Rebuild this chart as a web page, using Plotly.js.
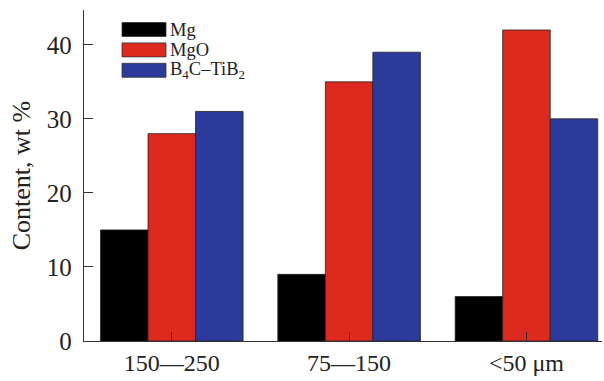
<!DOCTYPE html>
<html>
<head>
<meta charset="utf-8">
<script src="https://cdn.plot.ly/plotly-3.0.1.min.js"></script>
<style>html,body{margin:0;padding:0;background:#fff;}#chart{width:604px;height:381px;}</style>
</head>
<body>
<div id="chart"></div>
<script>
const categories = ["150—250", "75—150", "<50 μm"];
const seriesNames = ["Mg", "MgO", "B<sub>4</sub>C–TiB<sub>2</sub>"];
const mgValues = [15, 9, 6];
const mgoValues = [28, 35, 42];
const b4cValues = [31, 39, 30];
const yTicks = [0, 10, 20, 30, 40];
const colors = ["#000000", "#dc2a1e", "#2c3a9b"];

const seriesValues = [mgValues, mgoValues, b4cValues];
const esc = s => s.replace(/</g, "&lt;");

const traces = seriesValues.map((vals, i) => ({
  type: "bar",
  x: categories,
  y: vals,
  name: seriesNames[i],
  marker: {color: colors[i], line: {color: "#222", width: 0.8}},
  showlegend: false,
  hoverinfo: "skip"
}));

const font = {family: "Liberation Serif, Times New Roman, serif", color: "#222"};

// custom legend swatches (paper coordinates)
const shapes = [];
const annotations = [];
const legX0 = 122, legW = 44, legH = 14, legY0 = 22.5, legStep = 20.4;
const plotL = 84, plotT = 10, plotW = 604 - 84 - 2, plotH = 341 - 10;
function px2paperX(px) { return (px - plotL) / plotW; }
function px2paperY(py) { return 1 - (py - plotT) / plotH; }
seriesNames.forEach((name, i) => {
  const y0 = legY0 + i * legStep;
  shapes.push({
    type: "rect", xref: "paper", yref: "paper",
    x0: px2paperX(legX0), x1: px2paperX(legX0 + legW),
    y0: px2paperY(y0 + legH), y1: px2paperY(y0),
    fillcolor: colors[i], line: {color: "#333", width: 0.8}
  });
  annotations.push({
    xref: "paper", yref: "paper",
    x: px2paperX(legX0 + legW + 2), y: px2paperY(y0 + legH / 2),
    xanchor: "left", yanchor: "middle", showarrow: false,
    text: name, font: Object.assign({}, font, {size: 18.5})
  });
});

const layout = {
  width: 604, height: 381,
  margin: {l: 84, r: 2, t: 10, b: 40},
  paper_bgcolor: "#fff", plot_bgcolor: "#fff",
  barmode: "group", bargap: 0.196, bargroupgap: 0,
  font: font,
  showlegend: false,
  xaxis: {
    type: "category",
    range: [-0.495, 2.426],
    tickvals: categories,
    ticktext: categories.map(esc),
    ticks: "inside", ticklen: 9, tickwidth: 1, tickcolor: "#333",
    showline: true, linecolor: "#333", linewidth: 1.2,
    showgrid: false, zeroline: false,
    tickfont: Object.assign({}, font, {size: 24})
  },
  yaxis: {
    range: [0, 44.7],
    tickvals: yTicks,
    ticks: "inside", ticklen: 9, tickwidth: 1, tickcolor: "#333",
    showline: true, linecolor: "#333", linewidth: 1.2,
    showgrid: false, zeroline: false,
    ticklabelstandoff: 6,
    tickfont: Object.assign({}, font, {size: 25}),
    title: {text: "Content, wt %", font: Object.assign({}, font, {size: 26}), standoff: 8}
  },
  shapes: shapes,
  annotations: annotations
};

Plotly.newPlot("chart", traces, layout, {staticPlot: true, displayModeBar: false});
</script>
</body>
</html>
